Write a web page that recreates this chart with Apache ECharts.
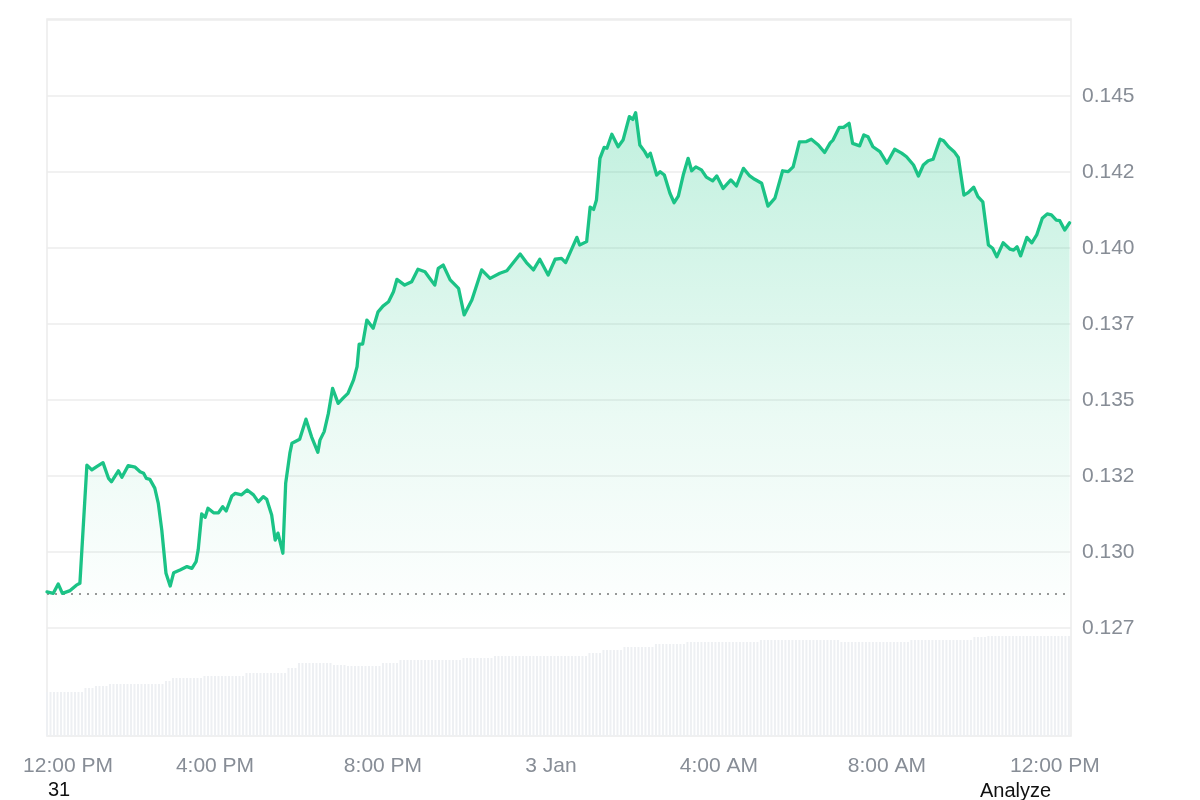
<!DOCTYPE html>
<html>
<head>
<meta charset="utf-8">
<script src="https://cdn.jsdelivr.net/npm/echarts@6/dist/echarts.min.js"></script>
<style>
  html, body { margin: 0; padding: 0; background: #ffffff; }
  #chart { width: 1200px; height: 800px; }
</style>
</head>
<body>
<div id="chart"></div>
<script>
// Minutes since 12:00 PM (start of the window)
const priceMinutes = [
  0,9,16,22,33,42,47,57,64,71,
  80,88,92,102,107,116,126,133,138,142,
  147,154,159,164,170,176,181,190,200,207,
  213,216,221,226,230,238,245,251,256,264,
  269,278,286,295,302,309,314,321,326,330,
  337,341,347,350,361,370,378,387,390,396,
  402,408,416,423,430,438,443,446,451,457,
  466,473,480,488,495,500,511,521,530,540,
  547,554,559,566,576,588,596,607,621,633,
  647,657,676,685,695,704,716,726,735,741,
  757,761,771,776,781,785,790,796,800,807,
  816,823,832,837,841,847,854,858,862,871,
  876,882,890,896,902,909,916,921,927,935,
  942,951,957,966,977,985,995,1004,1011,1021,
  1030,1040,1051,1059,1066,1075,1085,1092,1102,1111,
  1119,1123,1132,1138,1146,1151,1161,1167,1173,1180,
  1190,1200,1211,1221,1228,1238,1245,1252,1259,1266,
  1276,1281,1288,1296,1302,1310,1316,1324,1330,1337,
  1345,1351,1357,1366,1376,1381,1386,1391,1400,1407,
  1414,1422,1429,1435,1442,1447,1454,1461
];
const priceValues = [
  0.12869,0.12864,0.12895,0.12864,0.12873,0.12891,0.12897,0.13286,0.13270,0.13281,
  0.13294,0.13242,0.13231,0.13267,0.13246,0.13284,0.13279,0.13264,0.13259,0.13242,
  0.13239,0.13210,0.13160,0.13072,0.12930,0.12888,0.12932,0.12941,0.12952,0.12946,
  0.12968,0.13007,0.13125,0.13114,0.13144,0.13129,0.13129,0.13149,0.13135,0.13184,
  0.13193,0.13188,0.13204,0.13188,0.13165,0.13182,0.13173,0.13122,0.13039,0.13062,
  0.12996,0.13226,0.13325,0.13358,0.13371,0.13437,0.13379,0.13328,0.13368,0.13396,
  0.13456,0.13538,0.13489,0.13506,0.13522,0.13566,0.13610,0.13684,0.13684,0.13763,
  0.13736,0.13790,0.13809,0.13823,0.13856,0.13897,0.13878,0.13889,0.13930,0.13922,
  0.13900,0.13878,0.13933,0.13944,0.13895,0.13867,0.13780,0.13829,0.13928,0.13900,
  0.13917,0.13925,0.13980,0.13952,0.13928,0.13963,0.13911,0.13963,0.13966,0.13952,
  0.14035,0.14010,0.14021,0.14134,0.14127,0.14158,0.14295,0.14331,0.14328,0.14374,
  0.14333,0.14355,0.14432,0.14423,0.14445,0.14339,0.14317,0.14300,0.14312,0.14240,
  0.14251,0.14240,0.14180,0.14149,0.14171,0.14240,0.14295,0.14254,0.14267,0.14257,
  0.14233,0.14221,0.14237,0.14196,0.14224,0.14204,0.14262,0.14237,0.14226,0.14213,
  0.14138,0.14164,0.14254,0.14251,0.14267,0.14349,0.14350,0.14358,0.14339,0.14314,
  0.14346,0.14355,0.14397,0.14397,0.14410,0.14344,0.14336,0.14372,0.14366,0.14333,
  0.14317,0.14279,0.14325,0.14312,0.14300,0.14273,0.14237,0.14273,0.14287,0.14292,
  0.14358,0.14353,0.14333,0.14317,0.14298,0.14174,0.14182,0.14200,0.14169,0.14152,
  0.14010,0.13999,0.13971,0.14017,0.13996,0.13993,0.14004,0.13974,0.14035,0.14017,
  0.14043,0.14098,0.14112,0.14109,0.14092,0.14090,0.14059,0.14083
];
const openPrice = 0.12862;

// Volume, one bar every 5 minutes (relative units)
const volumeStepMinutes = 5;
const volumeValues = [
  44,44,44,44,44,44,44,44,44,44,44,
  48,48,48,
  50,50,50,50,
  52,52,52,52,52,52,52,52,52,52,52,52,52,52,52,52,
  55,55,
  58,58,58,58,58,58,58,58,58,
  60,60,60,60,60,60,60,60,60,60,60,60,
  63,63,63,63,63,63,63,63,63,63,63,63,
  68,68,68,
  73,73,73,73,73,73,73,73,73,73,
  71,71,71,71,
  70,70,70,70,70,70,70,70,70,70,
  73,73,73,73,73,
  76,76,76,76,76,76,76,76,76,76,76,76,76,76,76,76,76,76,
  78,78,78,78,78,78,78,78,78,
  80,80,80,80,80,80,80,80,80,80,80,80,80,80,80,80,80,80,80,80,80,80,80,80,80,80,80,
  83,83,83,83,
  86,86,86,86,86,86,
  89,89,89,89,89,89,89,89,89,
  92,92,92,92,92,92,92,92,92,
  94,94,94,94,94,94,94,94,94,94,94,94,94,94,94,94,94,94,94,94,94,
  96,96,96,96,96,96,96,96,96,96,96,96,96,96,96,96,96,96,96,96,96,96,96,
  94,94,94,94,94,94,94,94,94,94,94,94,94,94,94,94,94,94,94,94,
  96,96,96,96,96,96,96,96,96,96,96,96,96,96,96,96,96,96,
  99,99,99,99,
  100,100,100,100,100,100,100,100,100,100,100,100,100,100,100,100,100,100,100,100,100,100,100,100
];

const xTickLabels = ['12:00 PM', '4:00 PM', '8:00 PM', '3 Jan', '4:00 AM', '8:00 AM', '12:00 PM'];
const xTickStep = 240;      // minutes between labels
const xMaxMinutes = 1463;
const yMin = 0.1275, yMax = 0.1475, yStep = 0.0025;

const priceData = priceMinutes.map((m, i) => [m, priceValues[i]]);
const volumeData = volumeValues.map((v, i) => [i * volumeStepMinutes, v]);
const openLineData = [[0, openPrice], [xMaxMinutes, openPrice]];

const FONT = "'Liberation Sans', Arial, sans-serif";
const chart = echarts.init(document.getElementById('chart'), null, { renderer: 'canvas' });

chart.setOption({
  animation: false,
  backgroundColor: '#ffffff',
  textStyle: { fontFamily: FONT },
  graphic: [
    { type: 'rect', z: -10, silent: true,
      shape: { x: 47, y: 19, width: 1024, height: 717 },
      style: { fill: 'none', stroke: '#ececec', lineWidth: 1.5 } },
    { type: 'text', left: 48, top: 780,
      style: { text: '31', fill: '#111', font: "20px 'Liberation Sans', Arial, sans-serif" } },
    { type: 'text', left: 980, top: 781,
      style: { text: 'Analyze', fill: '#111', font: "20px 'Liberation Sans', Arial, sans-serif" } }
  ],
  grid: [
    { left: 47, right: 129, top: 20, bottom: 172 },
    { left: 47, right: 129, top: 636, bottom: 64 }
  ],
  xAxis: [
    { type: 'value', gridIndex: 0, min: 0, max: xMaxMinutes,
      axisLine: { show: false }, axisTick: { show: false },
      axisLabel: { show: false }, splitLine: { show: false } },
    { type: 'value', gridIndex: 1, min: 0, max: xMaxMinutes, interval: xTickStep,
      axisLine: { show: false }, axisTick: { show: false }, splitLine: { show: false },
      axisLabel: {
        color: '#878d96', fontSize: 21, fontFamily: FONT, margin: 20,
        showMaxLabel: true,
        formatter: function (v) {
          if (v % xTickStep !== 0) return '';
          const idx = v / xTickStep;
          if (idx === 0) return '{first|' + xTickLabels[0] + '}';
          return xTickLabels[idx] || '';
        },
        rich: { first: { color: '#878d96', fontSize: 21, fontFamily: FONT, padding: [0, 0, 0, 42] } }
      } }
  ],
  yAxis: [
    { type: 'value', gridIndex: 0, position: 'right', min: yMin, max: yMax, interval: yStep,
      axisLine: { show: false }, axisTick: { show: false },
      splitLine: { show: true, lineStyle: { color: '#ececec', width: 1.5 } },
      axisLabel: {
        color: '#878d96', fontSize: 21, fontFamily: FONT, margin: 11,
        formatter: function (v) {
          if (v > yMax - yStep / 2) return '';
          return (Math.floor(v * 1000 + 1e-6) / 1000).toFixed(3);
        }
      } },
    { type: 'value', gridIndex: 1, min: 0, max: function (e) { return e.max; },
      show: false, splitLine: { show: false } }
  ],
  series: [
    { type: 'bar', xAxisIndex: 1, yAxisIndex: 1, data: volumeData,
      barWidth: 2, itemStyle: { color: '#eef0f3' }, silent: true },
    { type: 'line', xAxisIndex: 0, yAxisIndex: 0, data: openLineData,
      showSymbol: false, symbol: 'none', silent: true, z: 1,
      lineStyle: { color: '#777', type: [2, 6], width: 1.5 } },
    { type: 'line', xAxisIndex: 0, yAxisIndex: 0, data: priceData, z: 3,
      showSymbol: false, symbol: 'none', smooth: false,
      lineStyle: { color: '#1bc386', width: 3.3, join: 'round', cap: 'round' },
      areaStyle: {
        origin: 'start',
        color: new echarts.graphic.LinearGradient(0, 0, 0, 1, [
          { offset: 0, color: 'rgba(22,199,132,0.38)' },
          { offset: 0.6, color: 'rgba(22,199,132,0.12)' },
          { offset: 1, color: 'rgba(22,199,132,0.0)' }
        ])
      }
    }
  ]
});
</script>
</body>
</html>
